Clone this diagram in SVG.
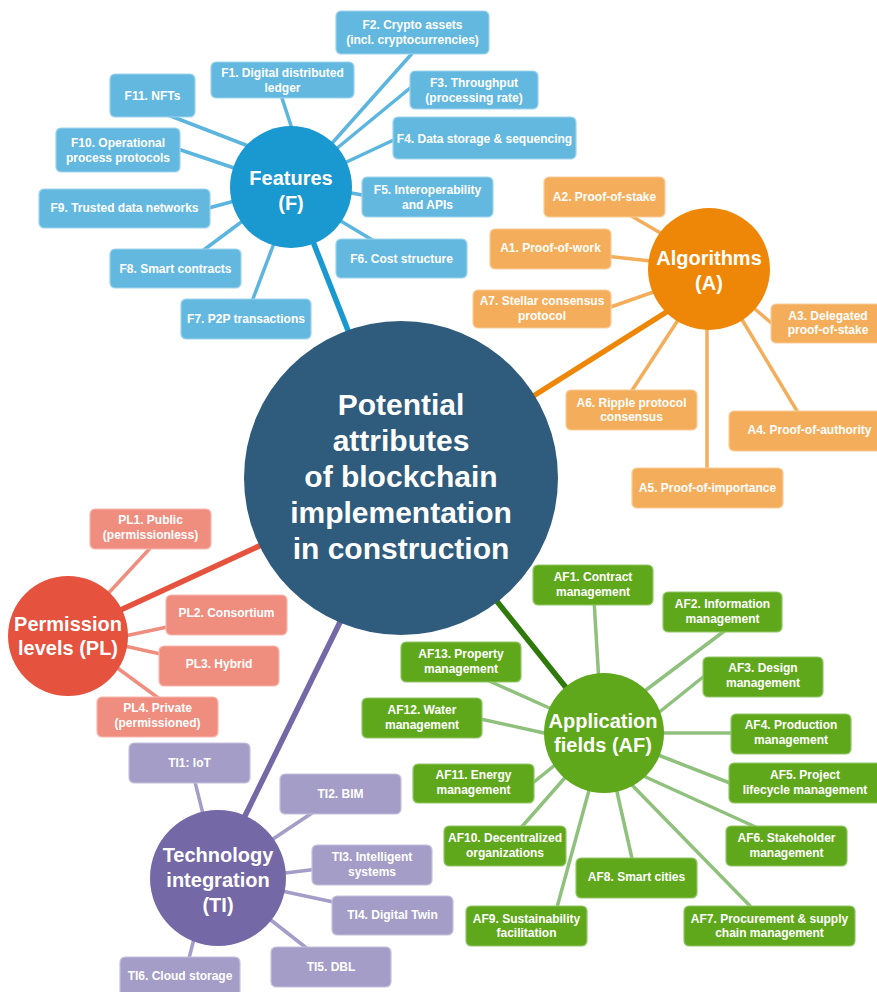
<svg xmlns="http://www.w3.org/2000/svg" width="877" height="992" viewBox="0 0 877 992">
<style>
text{font-family:"Liberation Sans",Arial,sans-serif;font-weight:bold;fill:#ffffff;text-anchor:middle}
.bt{font-size:12px}
.ct{font-size:20px}
.mt{font-size:30px}
.bx{stroke-width:1.2}
.fb{fill:#63b8e0;stroke:#9fd3ec}
.ab{fill:#f4ae5b;stroke:#f8cc98}
.pb{fill:#ef8d7f;stroke:#f5b8af}
.tb{fill:#a39dc7;stroke:#c6c2dd}
.gb{fill:#5fa81b;stroke:#93c66a}
.l{fill:none;stroke-width:3.5}
.m{fill:none;stroke-width:5.5}
.lf{stroke:#5cb5de}.la{stroke:#f4ae5b}.lp{stroke:#ef8d7f}.lt{stroke:#a39dc7}.lg{stroke:#8fc17d}
</style>
<g id="connectors">
<line class="l lf" x1="168" y1="115" x2="256" y2="149"/>
<line class="l lf" x1="172" y1="147" x2="243" y2="171"/>
<line class="l lf" x1="280" y1="92" x2="295" y2="138"/>
<line class="l lf" x1="416" y1="49" x2="326" y2="150"/>
<line class="l lf" x1="415" y1="84" x2="330" y2="154"/>
<line class="l lf" x1="400" y1="137" x2="338" y2="166"/>
<line class="l lf" x1="368" y1="196" x2="340" y2="191"/>
<line class="l lf" x1="374" y1="241" x2="334" y2="217"/>
<line class="l lf" x1="251" y1="304" x2="276" y2="238"/>
<line class="l lf" x1="201" y1="252" x2="248" y2="217"/>
<line class="l lf" x1="205" y1="209" x2="242" y2="199"/>
<line class="m" stroke="#1a98d0" x1="310" y1="234" x2="349" y2="333"/>
<line class="l la" x1="628" y1="214" x2="669" y2="238"/>
<line class="l la" x1="605" y1="256" x2="660" y2="262"/>
<line class="l la" x1="605" y1="309" x2="662" y2="289"/>
<line class="l la" x1="776" y1="327" x2="749" y2="304"/>
<line class="l la" x1="800" y1="416" x2="738" y2="313"/>
<line class="l la" x1="707" y1="473" x2="707" y2="320"/>
<line class="l la" x1="629" y1="395" x2="682" y2="314"/>
<line class="m" stroke="#ee8707" x1="676" y1="306" x2="527" y2="400"/>
<line class="l lp" x1="154" y1="544" x2="104" y2="598"/>
<line class="l lp" x1="172" y1="626" x2="120" y2="637"/>
<line class="l lp" x1="165" y1="655" x2="120" y2="645"/>
<line class="l lp" x1="161" y1="700" x2="112" y2="664"/>
<line class="m" stroke="#e5533f" x1="114" y1="613" x2="270" y2="541"/>
<line class="l lt" x1="194" y1="778" x2="204" y2="818"/>
<line class="l lt" x1="315" y1="811" x2="267" y2="843"/>
<line class="l lt" x1="318" y1="869" x2="277" y2="874"/>
<line class="l lt" x1="338" y1="903" x2="277" y2="890"/>
<line class="l lt" x1="309" y1="950" x2="267" y2="917"/>
<line class="l lt" x1="188" y1="962" x2="195" y2="935"/>
<line class="m" stroke="#7468a6" x1="242" y1="822" x2="344" y2="614"/>
<line class="l lg" x1="594" y1="600" x2="599" y2="683"/>
<line class="l lg" x1="727" y1="629" x2="638" y2="696"/>
<line class="l lg" x1="708" y1="673" x2="652" y2="718"/>
<line class="l lg" x1="737" y1="733" x2="653" y2="733"/>
<line class="l lg" x1="735" y1="785" x2="653" y2="753"/>
<line class="l lg" x1="760" y1="829" x2="639" y2="774"/>
<line class="l lg" x1="754" y1="910" x2="628" y2="781"/>
<line class="l lg" x1="633" y1="863" x2="615" y2="783"/>
<line class="l lg" x1="556" y1="911" x2="591" y2="783"/>
<line class="l lg" x1="519" y1="830" x2="570" y2="772"/>
<line class="l lg" x1="529" y1="786" x2="560" y2="761"/>
<line class="l lg" x1="476" y1="718" x2="553" y2="735"/>
<line class="l lg" x1="487" y1="680" x2="556" y2="711"/>
<line class="m" stroke="#2f7a0b" x1="572" y1="695" x2="491" y2="594"/>
</g>
<g id="center">
<circle cx="401" cy="478" r="157" fill="#2f5b7d"/>
<text class="mt" x="401" y="415">Potential</text>
<text class="mt" x="401" y="451">attributes</text>
<text class="mt" x="401" y="487">of blockchain</text>
<text class="mt" x="401" y="523">implementation</text>
<text class="mt" x="401" y="559">in construction</text>
</g>
<g id="features">
<circle cx="291" cy="187" r="61" fill="#1a98d0"/>
<text class="ct" x="291" y="185">Features</text>
<text class="ct" x="291" y="210">(F)</text>
</g>
<g id="F1"><rect class="bx fb" x="211" y="62" width="143" height="36" rx="5"/><text class="bt" x="282.5" y="77">F1. Digital distributed</text><text class="bt" x="282.5" y="92">ledger</text></g>
<g id="F2"><rect class="bx fb" x="336" y="11" width="153" height="43" rx="5"/><text class="bt" x="412.5" y="29">F2. Crypto assets</text><text class="bt" x="412.5" y="44">(incl. cryptocurrencies)</text></g>
<g id="F3"><rect class="bx fb" x="410" y="71" width="128" height="38" rx="5"/><text class="bt" x="474" y="87">F3. Throughput</text><text class="bt" x="474" y="102">(processing rate)</text></g>
<g id="F4"><rect class="bx fb" x="393" y="117" width="183" height="42" rx="5"/><text class="bt" x="484.5" y="143">F4. Data storage &amp; sequencing</text></g>
<g id="F5"><rect class="bx fb" x="362" y="177" width="131" height="40" rx="5"/><text class="bt" x="427.5" y="194">F5. Interoperability</text><text class="bt" x="427.5" y="209">and APIs</text></g>
<g id="F6"><rect class="bx fb" x="336" y="239" width="131" height="39" rx="5"/><text class="bt" x="401.5" y="263">F6. Cost structure</text></g>
<g id="F7"><rect class="bx fb" x="181" y="299" width="130" height="40" rx="5"/><text class="bt" x="246" y="323">F7. P2P transactions</text></g>
<g id="F8"><rect class="bx fb" x="110" y="249" width="131" height="39" rx="5"/><text class="bt" x="175.5" y="273">F8. Smart contracts</text></g>
<g id="F9"><rect class="bx fb" x="39" y="189" width="171" height="39" rx="5"/><text class="bt" x="124.5" y="212">F9. Trusted data networks</text></g>
<g id="F10"><rect class="bx fb" x="56" y="128" width="124" height="44" rx="5"/><text class="bt" x="118" y="147">F10. Operational</text><text class="bt" x="118" y="162">process protocols</text></g>
<g id="F11"><rect class="bx fb" x="110" y="74" width="85" height="43" rx="5"/><text class="bt" x="152.5" y="100">F11. NFTs</text></g>
<g id="algorithms">
<circle cx="709" cy="269" r="61" fill="#ee8707"/>
<text class="ct" x="709" y="265">Algorithms</text>
<text class="ct" x="709" y="290">(A)</text>
</g>
<g id="A1"><rect class="bx ab" x="490" y="229" width="121" height="40" rx="5"/><text class="bt" x="550.5" y="252">A1. Proof-of-work</text></g>
<g id="A2"><rect class="bx ab" x="544" y="177" width="121" height="40" rx="5"/><text class="bt" x="604.5" y="201">A2. Proof-of-stake</text></g>
<g id="A3"><rect class="bx ab" x="771" y="304" width="114" height="39" rx="5"/><text class="bt" x="828" y="320">A3. Delegated</text><text class="bt" x="828" y="334">proof-of-stake</text></g>
<g id="A4"><rect class="bx ab" x="729" y="411" width="161" height="40" rx="5"/><text class="bt" x="809.5" y="434">A4. Proof-of-authority</text></g>
<g id="A5"><rect class="bx ab" x="632" y="468" width="151" height="40" rx="5"/><text class="bt" x="707.5" y="492">A5. Proof-of-importance</text></g>
<g id="A6"><rect class="bx ab" x="566" y="390" width="131" height="40" rx="5"/><text class="bt" x="631.5" y="407">A6. Ripple protocol</text><text class="bt" x="631.5" y="421">consensus</text></g>
<g id="A7"><rect class="bx ab" x="473" y="290" width="138" height="38" rx="5"/><text class="bt" x="542" y="305">A7. Stellar consensus</text><text class="bt" x="542" y="320">protocol</text></g>
<g id="permission">
<circle cx="68" cy="636" r="60" fill="#e5533f"/>
<text class="ct" x="68" y="631">Permission</text>
<text class="ct" x="68" y="655">levels (PL)</text>
</g>
<g id="PL1"><rect class="bx pb" x="90" y="509" width="121" height="40" rx="5"/><text class="bt" x="150.5" y="524">PL1. Public</text><text class="bt" x="150.5" y="539">(permissionless)</text></g>
<g id="PL2"><rect class="bx pb" x="166" y="595" width="121" height="40" rx="5"/><text class="bt" x="226.5" y="617">PL2. Consortium</text></g>
<g id="PL3"><rect class="bx pb" x="159" y="646" width="120" height="40" rx="5"/><text class="bt" x="219" y="668">PL3. Hybrid</text></g>
<g id="PL4"><rect class="bx pb" x="97" y="697" width="121" height="40" rx="5"/><text class="bt" x="157.5" y="712">PL4. Private</text><text class="bt" x="157.5" y="727">(permissioned)</text></g>
<g id="technology">
<circle cx="218" cy="878" r="68" fill="#7468a6"/>
<text class="ct" x="218" y="862">Technology</text>
<text class="ct" x="218" y="887">integration</text>
<text class="ct" x="218" y="912">(TI)</text>
</g>
<g id="TI1"><rect class="bx tb" x="129" y="743" width="121" height="40" rx="5"/><text class="bt" x="189.5" y="767">TI1: IoT</text></g>
<g id="TI2"><rect class="bx tb" x="280" y="774" width="121" height="40" rx="5"/><text class="bt" x="340.5" y="798">TI2. BIM</text></g>
<g id="TI3"><rect class="bx tb" x="312" y="845" width="120" height="40" rx="5"/><text class="bt" x="372" y="861">TI3. Intelligent</text><text class="bt" x="372" y="876">systems</text></g>
<g id="TI4"><rect class="bx tb" x="332" y="896" width="121" height="39" rx="5"/><text class="bt" x="392.5" y="919">TI4. Digital Twin</text></g>
<g id="TI5"><rect class="bx tb" x="271" y="947" width="120" height="40" rx="5"/><text class="bt" x="331" y="971">TI5. DBL</text></g>
<g id="TI6"><rect class="bx tb" x="120" y="957" width="120" height="40" rx="5"/><text class="bt" x="180" y="980">TI6. Cloud storage</text></g>
<g id="application">
<circle cx="604" cy="733" r="60" fill="#5fa81b"/>
<text class="ct" x="603" y="728">Application</text>
<text class="ct" x="603" y="752">fields (AF)</text>
</g>
<g id="AF1"><rect class="bx gb" x="533" y="565" width="120" height="40" rx="5"/><text class="bt" x="593" y="581">AF1. Contract</text><text class="bt" x="593" y="596">management</text></g>
<g id="AF2"><rect class="bx gb" x="663" y="592" width="119" height="40" rx="5"/><text class="bt" x="722.5" y="608">AF2. Information</text><text class="bt" x="722.5" y="623">management</text></g>
<g id="AF3"><rect class="bx gb" x="703" y="657" width="120" height="40" rx="5"/><text class="bt" x="763" y="672">AF3. Design</text><text class="bt" x="763" y="687">management</text></g>
<g id="AF4"><rect class="bx gb" x="731" y="714" width="120" height="40" rx="5"/><text class="bt" x="791" y="729">AF4. Production</text><text class="bt" x="791" y="744">management</text></g>
<g id="AF5"><rect class="bx gb" x="729" y="763" width="152" height="40" rx="5"/><text class="bt" x="805" y="779">AF5. Project</text><text class="bt" x="805" y="794">lifecycle management</text></g>
<g id="AF6"><rect class="bx gb" x="726" y="826" width="121" height="40" rx="5"/><text class="bt" x="786.5" y="842">AF6. Stakeholder</text><text class="bt" x="786.5" y="857">management</text></g>
<g id="AF7"><rect class="bx gb" x="684" y="906" width="171" height="40" rx="5"/><text class="bt" x="769.5" y="923">AF7. Procurement &amp; supply</text><text class="bt" x="769.5" y="937">chain management</text></g>
<g id="AF8"><rect class="bx gb" x="576" y="858" width="121" height="40" rx="5"/><text class="bt" x="636.5" y="881">AF8. Smart cities</text></g>
<g id="AF9"><rect class="bx gb" x="466" y="906" width="121" height="40" rx="5"/><text class="bt" x="526.5" y="923">AF9. Sustainability</text><text class="bt" x="526.5" y="937">facilitation</text></g>
<g id="AF10"><rect class="bx gb" x="444" y="826" width="122" height="40" rx="5"/><text class="bt" x="505" y="842">AF10. Decentralized</text><text class="bt" x="505" y="857">organizations</text></g>
<g id="AF11"><rect class="bx gb" x="413" y="764" width="121" height="39" rx="5"/><text class="bt" x="473.5" y="779">AF11. Energy</text><text class="bt" x="473.5" y="794">management</text></g>
<g id="AF12"><rect class="bx gb" x="362" y="698" width="120" height="40" rx="5"/><text class="bt" x="422" y="714">AF12. Water</text><text class="bt" x="422" y="729">management</text></g>
<g id="AF13"><rect class="bx gb" x="401" y="642" width="120" height="40" rx="5"/><text class="bt" x="461" y="658">AF13. Property</text><text class="bt" x="461" y="673">management</text></g>
</svg>
